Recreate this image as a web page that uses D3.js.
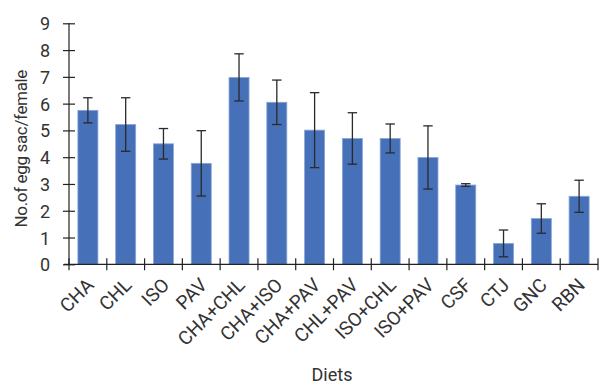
<!DOCTYPE html>
<html><head><meta charset="utf-8">
<script src="https://cdn.jsdelivr.net/npm/d3@7"></script>
<style>body{margin:0;background:#fff}svg{display:block}</style>
</head><body><svg id="c" width="601" height="385"></svg>
<script>
const categories = ["CHA","CHL","ISO","PAV","CHA+CHL","CHA+ISO","CHA+PAV","CHL+PAV","ISO+CHL","ISO+PAV","CSF","CTJ","GNC","RBN"];
const values = [5.75,5.22,4.5,3.77,6.98,6.05,5.01,4.7,4.7,3.99,2.96,0.78,1.71,2.54];
const errors = [0.47,1.0,0.57,1.22,0.88,0.83,1.4,0.96,0.54,1.18,0.05,0.5,0.55,0.6];
const yTicks = [0,1,2,3,4,5,6,7,8,9];
const yTitle = "No.of egg sac/female";
const xTitle = "Diets";

const svg = d3.select("#c");
const m = {l:69, r:3, t:23.3, b:120.7};
const W = 601, H = 385;
const x = d3.scaleBand().domain(categories).range([m.l, W - m.r]).paddingInner(0.47).paddingOuter(0.235);
const xb = d3.scaleBand().domain(categories).range([m.l, W - m.r]);
const y = d3.scaleLinear().domain([0,9]).range([H - m.b, m.t]);
const font = "Roboto, 'Noto Sans', sans-serif";
const axisCol = "#222";
const txtCol = "#333";

// bars
svg.append("g").selectAll("rect").data(categories).join("rect")
  .attr("x", d => x(d)).attr("width", x.bandwidth())
  .attr("y", (d,i) => y(values[i])).attr("height", (d,i) => y(0) - y(values[i]))
  .attr("fill", "#4671b8").attr("stroke", "#8aa6d8").attr("stroke-width", 0.8);

// error bars
const eg = svg.append("g").attr("stroke", "#2a2a2a").attr("stroke-width", 1.3);
categories.forEach((c,i) => {
  const cx = x(c) + x.bandwidth()/2;
  const y1 = y(values[i] + errors[i]), y2 = y(values[i] - errors[i]);
  eg.append("line").attr("x1", cx).attr("x2", cx).attr("y1", y1).attr("y2", y2);
  eg.append("line").attr("x1", cx-4.7).attr("x2", cx+4.7).attr("y1", y1).attr("y2", y1);
  eg.append("line").attr("x1", cx-4.7).attr("x2", cx+4.7).attr("y1", y2).attr("y2", y2);
});

// y axis
const ya = svg.append("g").attr("transform", `translate(${m.l},0)`)
  .call(d3.axisLeft(y).tickValues(yTicks).tickSize(6).tickFormat(d3.format("d")));
ya.select(".domain").attr("stroke", axisCol).attr("stroke-width", 1.2).attr("d", `M0,${y(0)}V${y(9)}`);
ya.selectAll(".tick line").attr("stroke", axisCol).attr("stroke-width", 1.2).attr("x1", -6).attr("x2", 6);
ya.selectAll(".tick text").attr("x", -19).attr("font-size", 18).attr("font-family", font).attr("fill", txtCol).attr("dy", "0.36em");

// x axis
const xg = svg.append("g").attr("transform", `translate(0,${y(0)})`);
xg.append("line").attr("x1", m.l - 5).attr("x2", W - m.r).attr("stroke", axisCol).attr("stroke-width", 1.2);
const bounds = categories.map(c => xb(c)).concat([xb(categories[categories.length-1]) + xb.bandwidth()]);
xg.selectAll("line.tk").data(bounds).join("line").attr("class","tk")
  .attr("x1", d => d).attr("x2", d => d).attr("y1", -6).attr("y2", 6)
  .attr("stroke", axisCol).attr("stroke-width", 1.2);
xg.selectAll("text").data(categories).join("text")
  .attr("transform", d => `translate(${xb(d) + xb.bandwidth()/2 + 7},${22}) rotate(-45)`)
  .attr("text-anchor", "end").attr("font-size", 19).attr("font-family", font).attr("fill", txtCol)
  .text(d => d);

// titles
svg.append("text").attr("transform", `translate(26.5,148.7) rotate(-90)`)
  .attr("text-anchor", "middle").attr("font-size", 17).attr("letter-spacing", -0.35)
  .attr("font-family", font).attr("fill", txtCol)
  .text(yTitle);
svg.append("text").attr("x", 332).attr("y", 380.5).attr("text-anchor", "middle")
  .attr("font-size", 18).attr("font-family", font).attr("fill", txtCol).text(xTitle);
</script></body></html>
